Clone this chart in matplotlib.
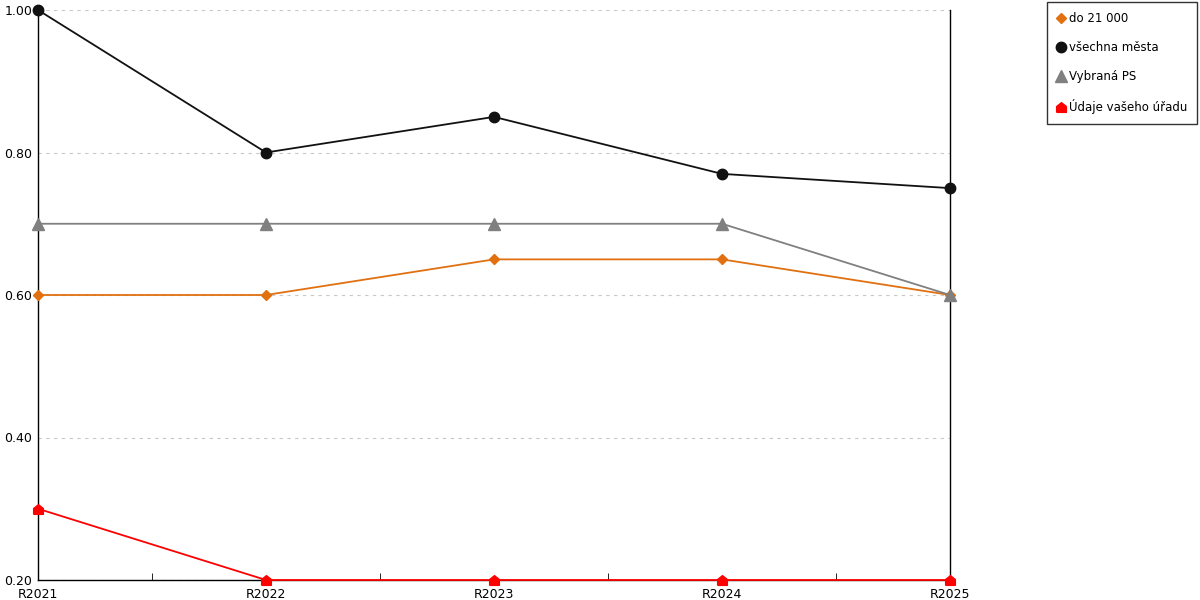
import matplotlib
matplotlib.use('Agg')
import matplotlib.pyplot as plt
import numpy as np

# data
years = ['R2021', 'R2022', 'R2023', 'R2024', 'R2025']
do_21000 = [0.60, 0.60, 0.65, 0.65, 0.60]
vsechna_mesta = [1.00, 0.80, 0.85, 0.77, 0.75]
vybrana_ps = [0.70, 0.70, 0.70, 0.70, 0.60]
vas_urad = [0.30, 0.20, 0.20, 0.20, 0.20]
yticks = [0.2, 0.4, 0.6, 0.8, 1.0]

plt.rcParams['font.family'] = 'DejaVu Sans'
plt.rcParams['font.size'] = 9

# house shaped marker for the red series
house = [(-1, -1), (1, -1), (1, 0.2), (0, 1), (-1, 0.2), (-1, -1)]

fig = plt.figure(figsize=(12, 6), dpi=100)
ax = fig.add_axes([38 / 1200, 20 / 600, 912 / 1200, 570 / 600])

x = np.arange(len(years))
ax.plot(x, do_21000, color='#e07010', lw=1.3, marker='D', ms=5.5, label='do 21 000', clip_on=False, zorder=3)
ax.plot(x, vsechna_mesta, color='#111111', lw=1.3, marker='o', ms=7.5, label='všechna města', clip_on=False, zorder=3)
ax.plot(x, vybrana_ps, color='#808080', lw=1.3, marker='^', ms=8, label='Vybraná PS', clip_on=False, zorder=3)
ax.plot(x, vas_urad, color='#ff0000', lw=1.3, marker=house, ms=7, label='Údaje vašeho úřadu', clip_on=False, zorder=3)

ax.set_xlim(0, len(years) - 1)
ax.set_ylim(0.2, 1.0)
ax.set_yticks(yticks)
ax.set_yticklabels([f'{v:.2f}' for v in yticks])
ax.set_xticks(x)
ax.set_xticklabels(years)
ax.set_xticks(x[:-1] + 0.5, minor=True)
ax.tick_params(axis='x', which='major', length=0, pad=6)
ax.tick_params(axis='x', which='minor', length=5, direction='in')
ax.tick_params(axis='y', length=0, pad=4)

ax.grid(axis='y', color='#c8c8c8', linestyle=(0, (3, 4)), lw=0.8)
ax.spines['top'].set_visible(False)
for s in ['left', 'right', 'bottom']:
    ax.spines[s].set_color('black')
    ax.spines[s].set_linewidth(1)

leg = fig.legend(loc='upper right', bbox_to_anchor=(1197 / 1200, 1 - 2 / 600), frameon=True,
                 fancybox=False, edgecolor='black', handlelength=0.7, handletextpad=0.3,
                 labelspacing=1.35, borderpad=0.85, borderaxespad=0, fontsize=8.5)
leg.get_frame().set_linewidth(1)

# legend shows markers only
for line in leg.get_lines():
    line.set_linestyle('none')

fig.savefig('out.png', dpi=100)
